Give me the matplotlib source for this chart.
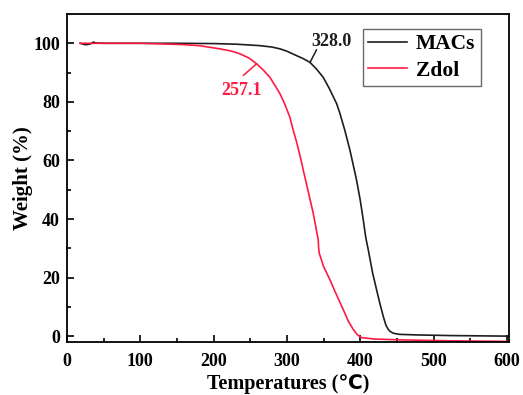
import matplotlib
matplotlib.use("Agg")
import matplotlib.pyplot as plt
import numpy as np

plt.rcParams['font.family'] = ['Liberation Serif', 'DejaVu Sans']
plt.rcParams['font.weight'] = 'bold'

# Data
macs_T = [18, 22, 26, 32, 36, 40, 50, 100, 150, 200, 230, 263, 280, 290.5, 300, 313, 322, 331.4, 340,
          349.5, 358, 367.8, 372.3, 379, 386, 390, 395, 400, 404, 407.7, 411, 417, 422.3, 427, 431.4,
          435, 438, 440.5, 445, 454, 480, 522, 603]
macs_W = [100, 99.7, 99.5, 99.8, 100.4, 100.1, 100, 100, 100, 99.9, 99.7, 99.2, 98.7, 98.1, 97.3, 95.8,
          94.8, 93.5, 91.3, 88.4, 84.5, 79.4, 76.1, 70.3, 63.5, 59.0, 53.3, 46.5, 40.0, 33.5, 29.5,
          21.5, 15.9, 11.0, 6.8, 3.8, 2.4, 1.7, 1.0, 0.6, 0.4, 0.2, 0.0]
zdol_T = [18, 60, 100, 154, 180, 208.6, 225, 236, 248, 258.7, 268, 276.8, 284, 290.5, 297, 304, 308.6,
          313, 318, 322.3, 329, 335.9, 340, 342.7, 343.2, 344, 350, 358.6, 367, 376.8, 384, 390.5, 396,
          401.8, 420, 460, 522, 603]
zdol_W = [100, 100, 100, 99.6, 99.2, 98.1, 97.3, 96.4, 95.0, 93.0, 90.8, 88.4, 85.5, 82.8, 79.3, 74.8,
          70.3, 66.5, 61.5, 56.7, 49.5, 42.0, 36.5, 33.0, 30.5, 28.4, 23.8, 19.3, 14.5, 9.1, 5.0, 2.3,
          0.5, -0.5, -1.0, -1.3, -1.6, -1.8]

series_names = ["MACs", "Zdol"]
onset_labels = ["328.0", "257.1"]

BLACK = '#1e1e1e'
RED = '#ff1a40'

fig = plt.figure(figsize=(5.23, 3.95), dpi=100)
ax = fig.add_axes([67/523, 1-342/395, (509-67)/523, (342-14)/395])

ax.plot(macs_T, macs_W, color=BLACK, lw=1.2, label=series_names[0])
ax.plot(zdol_T, zdol_W, color=RED, lw=1.2, label=series_names[1])

ax.set_xlim(0, 603)
ax.set_ylim(-2, 110)
ax.set_xticks([0, 100, 200, 300, 400, 500, 600])
ax.set_yticks([0, 20, 40, 60, 80, 100])
ax.set_xticks(np.arange(50, 600, 100), minor=True)
ax.set_yticks(np.arange(10, 110, 20), minor=True)
ax.tick_params(which='both', direction='in', top=False, right=False, width=1.2)
ax.tick_params(which='major', length=5, labelsize=13)
ax.tick_params(which='minor', length=3)
ax.tick_params(axis='x', which='major', pad=8)
ax.tick_params(axis='y', which='major', pad=5)
for lab in ax.get_xticklabels() + ax.get_yticklabels():
    lab.set_fontweight('bold')
for s in ax.spines.values():
    s.set_linewidth(1.3)

ax.set_xlabel('Temperatures (℃)', fontsize=14.5, fontweight='bold', labelpad=3)
ax.set_ylabel('Weight (%)', fontsize=15, fontweight='bold', labelpad=0)

# onset annotations: leader line + label
ax.annotate('', xy=(331.4, 93.4), xytext=(340.5, 97.8),
            arrowprops=dict(arrowstyle='-', color=BLACK, lw=1.1, shrinkA=0, shrinkB=0))
ax.text(333.5, 100.7, onset_labels[0], fontsize=13, fontweight='bold', color=BLACK,
        ha='left', va='center')
ax.annotate('', xy=(258.7, 93.0), xytext=(240.4, 89.0),
            arrowprops=dict(arrowstyle='-', color=RED, lw=1.1, shrinkA=0, shrinkB=0))
ax.text(211, 84.0, onset_labels[1], fontsize=13, fontweight='bold', color=RED,
        ha='left', va='center')

leg = ax.legend(loc='upper left', bbox_to_anchor=((363-67)/442, (342-29)/328), borderaxespad=0,
                frameon=True, fancybox=False, edgecolor='#444444', handlelength=1.8,
                handletextpad=0.42, borderpad=0.25, labelspacing=0.3,
                prop={'weight': 'bold', 'size': 15.5})
leg.get_frame().set_linewidth(1.0)

fig.savefig('out.png', dpi=100)
